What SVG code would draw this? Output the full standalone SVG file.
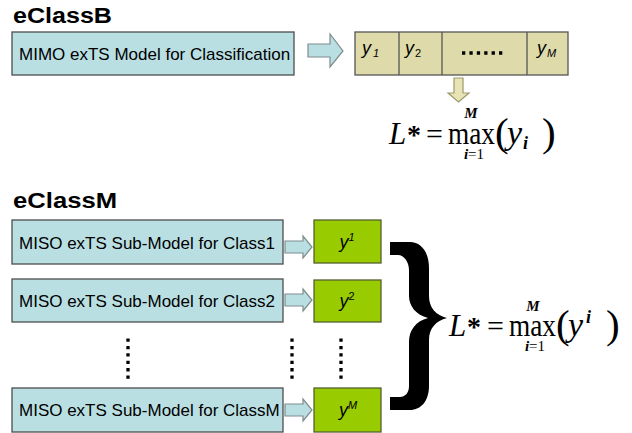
<svg xmlns="http://www.w3.org/2000/svg" width="632" height="433" viewBox="0 0 632 433">
<style>
.title{font-family:"Liberation Sans",Arial,sans-serif;font-weight:bold;font-size:22px;fill:#000}
.lbl{font-family:"Liberation Sans",Arial,sans-serif;font-size:17px;fill:#000}
.blue{fill:#b9dfe3;stroke:#4d4d4d;stroke-width:1.3}
.strip{fill:#dedaa9;stroke:#555;stroke-width:1.3}
.green{fill:#99cc00;stroke:#55602f;stroke-width:1.3}
.arr{fill:#b9dfe3;stroke:#7f8c8e;stroke-width:1.2}
.darr{fill:#e8e4b6;stroke:#9b9a6a;stroke-width:1.2}
.yv{font-family:"Liberation Sans",Arial,sans-serif;font-style:italic;font-size:18px;fill:#000}
.ys{font-size:11px}
.m{font-family:"Liberation Serif","Times New Roman",serif;fill:#000}
.dots{stroke:#000;stroke-width:3.3;stroke-dasharray:3.3 4.1;fill:none}
</style>

<text class="title" x="13" y="23" textLength="99" lengthAdjust="spacingAndGlyphs">eClassB</text>
<text class="title" x="13" y="208" textLength="104" lengthAdjust="spacingAndGlyphs">eClassM</text>

<g id="mimo">
<rect class="blue" x="12" y="32" width="282" height="43"/>
<text class="lbl" x="19" y="60">MIMO exTS Model for Classification</text>
</g>

<g id="strip">
<rect class="strip" x="355" y="32" width="213" height="43"/>
<line x1="399" y1="32" x2="399" y2="75" stroke="#555" stroke-width="1.3"/>
<line x1="442" y1="32" x2="442" y2="75" stroke="#555" stroke-width="1.3"/>
<line x1="527" y1="32" x2="527" y2="75" stroke="#555" stroke-width="1.3"/>
<text class="yv" x="362" y="54">y<tspan class="ys" dx="2" dy="3">1</tspan></text>
<text class="yv" x="405" y="54">y<tspan class="ys" dx="1" dy="3" font-style="normal">2</tspan></text>
<line class="dots" x1="462" y1="53" x2="504" y2="53" stroke-width="3" stroke-dasharray="3 4.6"/>
<text class="yv" x="537" y="54">y<tspan class="ys" dx="1" dy="3">M</tspan></text>
</g>

<g id="formula1" class="m">
<text x="389" y="144" font-size="31" font-style="italic">L</text>
<text x="407" y="144" font-size="28" font-weight="bold">*</text>
<text x="426" y="144" font-size="30">=</text>
<text x="448" y="144" font-size="31" textLength="47" lengthAdjust="spacingAndGlyphs">max</text>
<text x="471" y="118" font-size="15" font-style="italic" font-weight="bold" text-anchor="middle">M</text>
<text x="474" y="159" font-size="15" text-anchor="middle"><tspan font-style="italic" font-weight="bold">i</tspan>=1</text>
<text x="495" y="146" font-size="41">(</text>
<text x="507" y="144" font-size="34" font-style="italic">y</text>
<text x="523" y="149" font-size="18" font-style="italic" font-weight="bold">i</text>
<text x="542" y="146" font-size="41">)</text>
</g>

<g id="row1">
<rect class="blue" x="12" y="220" width="271" height="44"/>
<text class="lbl" x="19" y="249">MISO exTS Sub-Model for Class1</text>
</g>
<g id="row2">
<rect class="blue" x="12" y="279" width="271" height="43"/>
<text class="lbl" x="19" y="307">MISO exTS Sub-Model for Class2</text>
</g>
<g id="rowM">
<rect class="blue" x="12" y="388" width="271" height="44"/>
<text class="lbl" x="19" y="416">MISO exTS Sub-Model for ClassM</text>
</g>

<g id="out1">
<rect class="green" x="314" y="220" width="67" height="43"/>
<text class="yv" x="347" y="248" text-anchor="middle">y<tspan class="ys" dy="-7">1</tspan></text>
</g>
<g id="out2">
<rect class="green" x="314" y="280" width="67" height="42"/>
<text class="yv" x="347" y="307" text-anchor="middle">y<tspan class="ys" dy="-7" font-style="normal">2</tspan></text>
</g>
<g id="outM">
<rect class="green" x="314" y="388" width="67" height="44"/>
<text class="yv" x="348" y="416" text-anchor="middle">y<tspan class="ys" dy="-7">M</tspan></text>
</g>

<g id="connectors">
<path class="arr" d="M308 44 L330 44 L330 34 L343 51 L330 67 L330 57 L308 57 Z"/>
<path class="darr" d="M454 78 L463 78 L463 93 L469 93 L458.5 102 L448 93 L454 93 Z"/>
<path class="arr" d="M285 241 L303 241 L303 236 L312 247 L303 258 L303 253 L285 253 Z"/>
<path class="arr" d="M285 294 L303 294 L303 289 L312 300 L303 311 L303 306 L285 306 Z"/>
<path class="arr" d="M285 404 L303 404 L303 399 L312 410 L303 421 L303 416 L285 416 Z"/>
</g>

<g id="ellipsis">
<line class="dots" x1="128" y1="338.5" x2="128" y2="380"/>
<line class="dots" x1="292" y1="338.5" x2="292" y2="380"/>
<line class="dots" x1="341" y1="338.5" x2="341" y2="380"/>
</g>

<g id="brace">
<path fill="#000" d="M390 242 L410 242 C421 242 429 252 429 268 L429 296 C429 308 436 315 447 318 C436 321 429 328 429 340 L429 386 C429 401 421 410 410 410 L390 410 L390 397 L400 397 C405 397 409 393 409 386 L409 342 C409 330 416 321 428 318 C416 315 409 306 409 296 L409 270 C409 262 404 255 398 255 L390 255 Z"/>
</g>

<g id="formula2" class="m">
<text x="449" y="336" font-size="31" font-style="italic">L</text>
<text x="467" y="336" font-size="28" font-weight="bold">*</text>
<text x="487" y="336" font-size="30">=</text>
<text x="509" y="336" font-size="31" textLength="47" lengthAdjust="spacingAndGlyphs">max</text>
<text x="533" y="311" font-size="15" font-style="italic" font-weight="bold" text-anchor="middle">M</text>
<text x="535" y="351" font-size="15" text-anchor="middle"><tspan font-style="italic" font-weight="bold">i</tspan>=1</text>
<text x="556" y="338" font-size="41">(</text>
<text x="568" y="336" font-size="34" font-style="italic">y</text>
<text x="586" y="323" font-size="18" font-style="italic" font-weight="bold">i</text>
<text x="606" y="338" font-size="41">)</text>
</g>
</svg>
